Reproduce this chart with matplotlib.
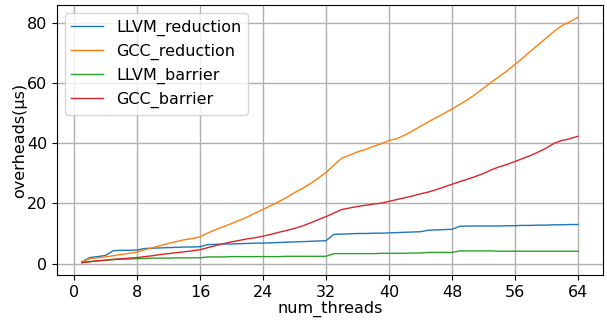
import matplotlib
matplotlib.use("Agg")
import matplotlib.pyplot as plt

threads = list(range(1, 65))

llvm_reduction = [0.5, 2.0, 2.3, 2.7, 4.3, 4.4, 4.4, 4.5, 5.0, 5.1,
                  5.2, 5.3, 5.4, 5.5, 5.5, 5.6, 6.3, 6.4, 6.5, 6.5,
                  6.6, 6.7, 6.8, 6.8, 6.9, 7.0, 7.1, 7.2, 7.3, 7.4,
                  7.5, 7.6, 9.7, 9.8, 9.9, 10.0, 10.0, 10.1, 10.1, 10.2,
                  10.3, 10.4, 10.5, 10.6, 11.1, 11.2, 11.3, 11.4, 12.4, 12.5,
                  12.5, 12.5, 12.5, 12.5, 12.6, 12.6, 12.7, 12.7, 12.8, 12.8,
                  12.9, 12.9, 13.0, 13.0]

gcc_reduction = [0.5, 1.6, 1.9, 2.2, 2.6, 3.0, 3.4, 3.8, 4.6, 5.3,
                 6.0, 6.7, 7.3, 7.9, 8.3, 8.9, 10.2, 11.3, 12.3, 13.3,
                 14.4, 15.5, 16.8, 18.0, 19.3, 20.6, 22.0, 23.6, 25.0, 26.6,
                 28.4, 30.3, 32.8, 35.1, 36.1, 37.2, 38.0, 39.0, 39.9, 41.0,
                 41.6, 42.8, 44.2, 45.7, 47.2, 48.6, 50.0, 51.5, 53.0, 54.6,
                 56.4, 58.4, 60.4, 62.3, 64.2, 66.3, 68.5, 70.8, 73.0, 75.2,
                 77.4, 79.3, 80.6, 82.0]

llvm_barrier = [0.3, 0.6, 0.9, 1.1, 1.3, 1.4, 1.5, 1.6, 1.7, 1.8,
                1.8, 1.8, 1.9, 1.9, 1.9, 1.9, 2.2, 2.2, 2.2, 2.3,
                2.3, 2.3, 2.3, 2.3, 2.3, 2.3, 2.4, 2.4, 2.4, 2.4,
                2.4, 2.4, 3.3, 3.3, 3.3, 3.3, 3.3, 3.3, 3.4, 3.4,
                3.4, 3.4, 3.5, 3.5, 3.7, 3.7, 3.7, 3.7, 4.2, 4.2,
                4.2, 4.2, 4.2, 4.1, 4.1, 4.1, 4.1, 4.1, 4.1, 4.1,
                4.1, 4.1, 4.1, 4.1]

gcc_barrier = [0.3, 0.6, 0.9, 1.1, 1.4, 1.6, 1.8, 2.0, 2.3, 2.6,
               3.0, 3.3, 3.6, 3.9, 4.2, 4.6, 5.3, 6.0, 6.6, 7.2,
               7.7, 8.2, 8.6, 9.1, 9.7, 10.4, 11.0, 11.7, 12.5, 13.5,
               14.6, 15.6, 16.8, 18.0, 18.5, 19.0, 19.4, 19.8, 20.1, 20.7,
               21.3, 21.9, 22.5, 23.2, 23.8, 24.6, 25.5, 26.4, 27.3, 28.1,
               29.0, 30.0, 31.2, 32.2, 33.0, 34.0, 35.0, 36.0, 37.2, 38.5,
               40.1, 41.0, 41.6, 42.4]

series_names = ["LLVM_reduction", "GCC_reduction", "LLVM_barrier", "GCC_barrier"]
x_ticks = [0, 8, 16, 24, 32, 40, 48, 56, 64]
y_ticks = [0, 20, 40, 60, 80]

plt.rcParams['font.family'] = ['DejaVu Sans']
fs = 11.5

fig = plt.figure(figsize=(6.07, 3.20), dpi=100)
ax = fig.add_axes([0.094, 0.141, 0.899, 0.843])

colors = ["#1f77b4", "#ff7f0e", "#2ca02c", "#d62728"]
for vals, name, c in zip([llvm_reduction, gcc_reduction, llvm_barrier, gcc_barrier],
                         series_names, colors):
    ax.plot(threads, vals, color=c, linewidth=1.0, label=name)

ax.set_xticks(x_ticks)
ax.set_yticks(y_ticks)
ax.tick_params(labelsize=fs)
ax.set_xlabel("num_threads", fontsize=fs, labelpad=1)
ax.set_ylabel("overheads(\u03bcs)", fontsize=fs, labelpad=0)
ax.grid(True, color="#b0b0b0", linewidth=1.0)
ax.legend(loc="upper left", fontsize=fs, handlelength=2.0)

fig.savefig("out.png", dpi=100)
